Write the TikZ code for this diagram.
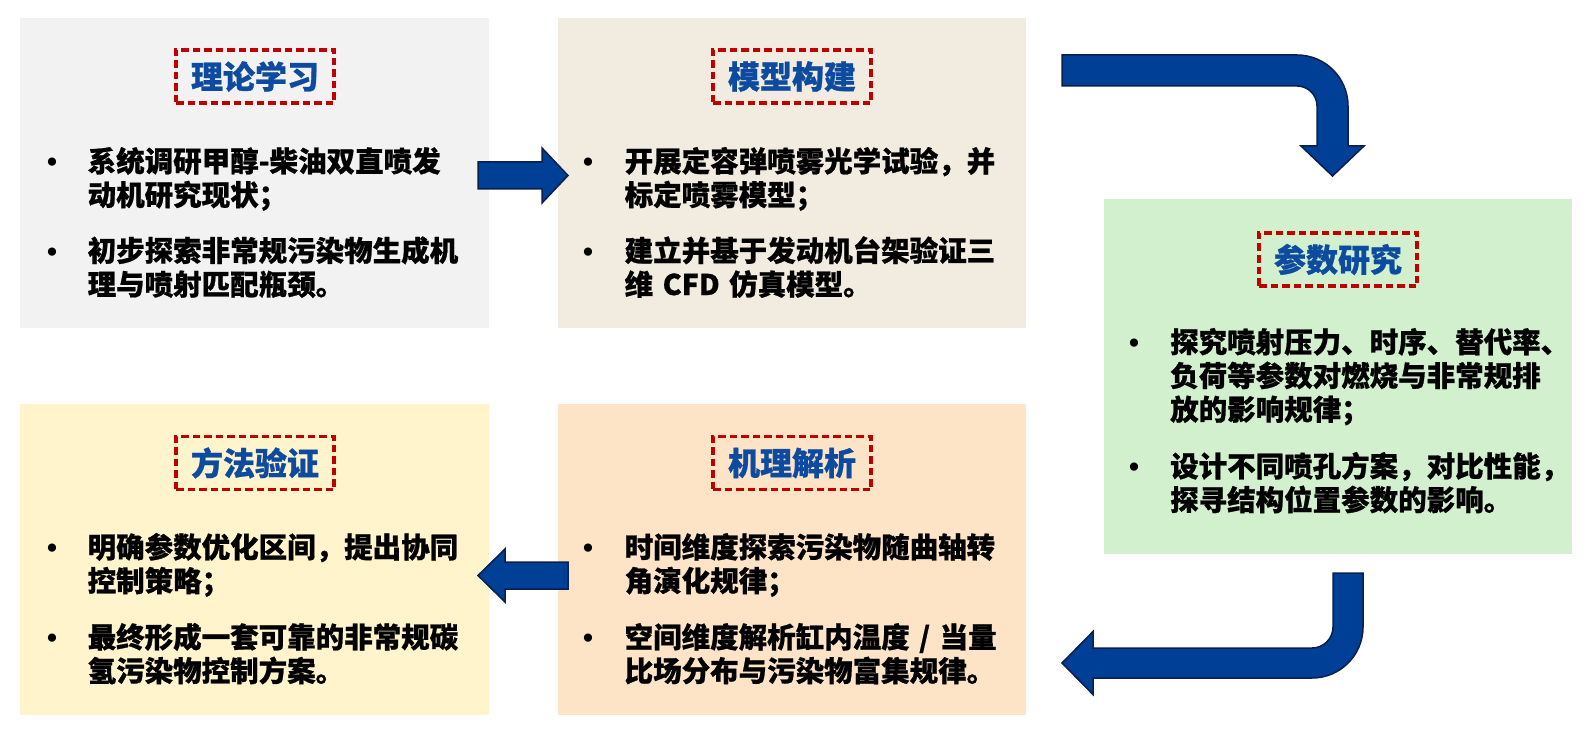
\documentclass[tikz,border=0pt]{standalone}
\usepackage{fontspec}
\setmainfont{Noto Sans CJK SC}[BoldFeatures={FakeBold=0.8}]
\newfontfamily\bulfont{Liberation Sans}
\definecolor{cgray}{HTML}{F2F2F2}
\definecolor{cbeige}{HTML}{F2EBE0}
\definecolor{cgreen}{HTML}{D2F0CD}
\definecolor{cyellow}{HTML}{FFF4CC}
\definecolor{corange}{HTML}{FDE4C7}
\definecolor{tred}{HTML}{C00000}
\definecolor{tblue}{HTML}{0D4BA0}
\definecolor{afill}{HTML}{003F96}
\definecolor{aline}{HTML}{0B1F4E}
\tikzset{
  panel/.style={draw=none, inner sep=0pt},
  ttl/.style={draw=tred, line width=3.5pt, dash pattern=on 7.5pt off 4pt, minimum width=158pt, minimum height=53pt, inner sep=0pt, text=tblue, font=\bfseries\fontsize{32}{32}\selectfont},
  body/.style={anchor=base west, inner sep=0pt, text width=440pt, align=left, font=\bfseries\fontsize{28.5}{33.7}\selectfont},
  bul/.style={anchor=base, inner sep=0pt, font=\bulfont\bfseries\fontsize{28.5}{28.5}\selectfont},
  barrow/.style={fill=afill, draw=aline, line width=1.5pt, line join=miter}
}
\begin{document}
\begin{tikzpicture}[x=1pt,y=-1pt]
\useasboundingbox[fill=white] (0,0) rectangle (1594,735);
% panels
\node[panel, fill=cgray, minimum width=469pt, minimum height=310pt] (p1) at (254.5,173) {};
\node[panel, fill=cbeige, minimum width=468pt, minimum height=310pt] (p2) at (792,173) {};
\node[panel, fill=cgreen, minimum width=468pt, minimum height=355pt] (p3) at (1338,376.5) {};
\node[panel, fill=cyellow, minimum width=469pt, minimum height=311pt] (p4) at (254.5,559.5) {};
\node[panel, fill=corange, minimum width=468pt, minimum height=311pt] (p5) at (792,559.5) {};
% titles
\node[ttl] (t1) at (255,76.5) {理论学习};
\node[ttl] (t2) at (792,76.5) {模型构建};
\node[ttl] (t3) at (1338,259.5) {参数研究};
\node[ttl] (t4) at (255,463) {方法验证};
\node[ttl] (t5) at (792,463) {机理解析};
% bullets and texts
\node[bul] (u1a) at (52,171.8) {•};
\node[body] (b1a) at (87.5,171.8) {系统调研甲醇-柴油双直喷发\\动机研究现状；};
\node[bul] (u1b) at (52,261.3) {•};
\node[body] (b1b) at (87.5,261.3) {初步探索非常规污染物生成机\\理与喷射匹配瓶颈。};
\node[bul] (u2a) at (588,171.8) {•};
\node[body] (b2a) at (624.5,171.8) {开展定容弹喷雾光学试验，并\\标定喷雾模型；};
\node[bul] (u2b) at (588,261.3) {•};
\node[body] (b2b) at (624.5,261.3) {建立并基于发动机台架验证三\\维 CFD 仿真模型。};
\node[bul] (u3a) at (1134,352.7) {•};
\node[body] (b3a) at (1170,352.7) {探究喷射压力、时序、替代率、\\负荷等参数对燃烧与非常规排\\放的影响规律；};
\node[bul] (u3b) at (1134,476.8) {•};
\node[body] (b3b) at (1170,476.8) {设计不同喷孔方案，对比性能，\\探寻结构位置参数的影响。};
\node[bul] (u4a) at (52,557.8) {•};
\node[body] (b4a) at (87.5,557.8) {明确参数优化区间，提出协同\\控制策略；};
\node[bul] (u4b) at (52,647.8) {•};
\node[body] (b4b) at (87.5,647.8) {最终形成一套可靠的非常规碳\\氢污染物控制方案。};
\node[bul] (u5a) at (588,557.8) {•};
\node[body] (b5a) at (624.5,557.8) {时间维度探索污染物随曲轴转\\角演化规律；};
\node[bul] (u5b) at (588,647.8) {•};
\node[body] (b5b) at (624.5,647.8) {空间维度解析缸内温度 / 当量\\比场分布与污染物富集规律。};
% arrows
\draw[barrow] (478,162) -- (542,162) -- (542,148) -- (568,175.5) -- (542,203) -- (542,189) -- (478,189) -- cycle;
\draw[barrow] (1062,55) -- (1297,55) arc[start angle=-90, end angle=0, radius=51] -- (1348,146) -- (1364,146) -- (1332.5,176) -- (1301,146) -- (1317,146) -- (1317,106) arc[start angle=0, end angle=-90, radius=20] -- (1062,86) -- cycle;
\draw[barrow] (1333,573) -- (1363,573) -- (1363,627) arc[start angle=0, end angle=90, radius=51] -- (1093,678) -- (1093,694.5) -- (1062,663) -- (1093,631.5) -- (1093,648) -- (1312,648) arc[start angle=90, end angle=0, radius=21] -- cycle;
\draw[barrow] (568,562) -- (505,562) -- (505,549) -- (478,575.5) -- (505,602) -- (505,589) -- (568,589) -- cycle;
\end{tikzpicture}
\end{document}
